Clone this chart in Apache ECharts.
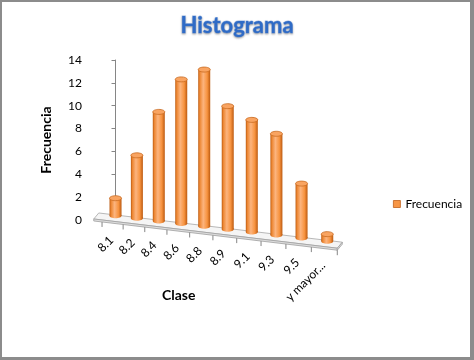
<!DOCTYPE html>
<html>
<head>
<meta charset="utf-8">
<script src="https://cdn.jsdelivr.net/npm/echarts@6/dist/echarts.min.js"></script>
<style>
html,body{margin:0;padding:0;background:#fff;}
#c{width:474px;height:360px;}
</style>
</head>
<body>
<div id="c"></div>
<script>
// ---- data ----
const categories = ['8.1', '8.2', '8.4', '8.6', '8.8', '8.9', '9.1', '9.3', '9.5', 'y mayor...'];
const frecuencia = [2, 6, 10, 13, 14, 11, 10, 9, 5, 1];
const yMin = 0, yMax = 14, yInterval = 2;
const seriesName = 'Frecuencia';
const titleText = 'Histograma';
const xTitle = 'Clase';
const yTitle = 'Frecuencia';

// ---- style / perspective parameters ----
const FONT = 'Lato, Carlito, "Open Sans", sans-serif';
const WARP = 0.27;      // perspective spacing warp
const SLOPE = 0.12;     // floor slope (receding)
const BASE_OFF = -4.6;  // bar base offset from wall zero
const AXIS_COLOR = '#868686';

const chart = echarts.init(document.getElementById('c'));

function geo(api) {
  const o = api.coord([-1, 0]);
  const one = api.coord([-1, 1]);
  return { x0: o[0], y0: o[1], unit: o[1] - one[1] };
}
function xAt(api, c) { return api.coord([c, 0])[0] + WARP * c * (c - 9); }
function yBase(g, x) { return g.y0 + BASE_OFF + SLOPE * (x - g.x0); }

const bodyGrad = () => new echarts.graphic.LinearGradient(0, 0, 1, 0, [
  { offset: 0, color: '#b9580f' },
  { offset: 0.12, color: '#ec8530' },
  { offset: 0.42, color: '#fcb47e' },
  { offset: 0.75, color: '#f7933f' },
  { offset: 1, color: '#bc5a10' }
]);

function renderBar(params, api) {
  const i = api.value(0), v = api.value(1);
  const g = geo(api);
  const x = xAt(api, i);
  const yb = yBase(g, x);
  const h = v * g.unit * (1.01 + 0.0003 * (x - 200));
  const yt = yb - h;
  const hw = 6, ry = 2.5;
  return {
    type: 'group',
    children: [
      { type: 'ellipse', shape: { cx: x, cy: yb - ry, rx: hw, ry: ry }, style: { fill: bodyGrad() } },
      { type: 'rect', shape: { x: x - hw, y: yt + ry, width: 2 * hw, height: Math.max(0, h - 2 * ry) }, style: { fill: bodyGrad() } },
      { type: 'ellipse', shape: { cx: x, cy: yt + ry, rx: hw, ry: ry }, style: { fill: '#f9a461', stroke: '#c8691f', lineWidth: 0.8 } }
    ]
  };
}

function renderFloor(params, api) {
  const g = geo(api);
  const cl = -0.9, cr = 9.5;
  const F = c => { const x = xAt(api, c); return [x - 3, yBase(g, x) + 3]; };
  const B = c => { const x = xAt(api, c); return [x + 2, yBase(g, x) - 3]; };
  const children = [];
  const fl = F(cl), fr = F(cr), br = B(cr);
  children.push({ type: 'polygon', shape: { points: [B(cl), br, fr, fl] }, style: { fill: '#f5f5f5', stroke: '#b8b8b8', lineWidth: 1 } });
  children.push({ type: 'polygon', shape: { points: [fl, fr, [fr[0], fr[1] + 2], [fl[0], fl[1] + 2]] }, style: { fill: '#dedede', stroke: '#a0a0a0', lineWidth: 0.8 } });
  children.push({ type: 'polygon', shape: { points: [fr, br, [br[0], br[1] + 2], [fr[0], fr[1] + 2]] }, style: { fill: '#dedede', stroke: '#a0a0a0', lineWidth: 0.8 } });
  const tickCs = [];
  for (let k = 0; k < categories.length; k++) tickCs.push(k - 0.5);
  tickCs.push(cr);
  tickCs.forEach(c => {
    const p = F(c);
    children.push({ type: 'line', shape: { x1: p[0], y1: p[1] + 2, x2: p[0], y2: p[1] + 7 }, style: { stroke: AXIS_COLOR, lineWidth: 1 } });
  });
  categories.forEach((name, i) => {
    const p = F(i);
    children.push({
      type: 'text', x: p[0] - 1, y: p[1] + 17, rotation: Math.PI / 4,
      style: { text: name, x: 0, y: 0, align: 'right', verticalAlign: 'middle', fontFamily: FONT, fontSize: 12, fill: '#000' }
    });
  });
  return { type: 'group', children };
}

chart.setOption({
  animation: false,
  backgroundColor: '#fff',
  title: {
    text: titleText, left: 'center', top: 10,
    textStyle: { fontFamily: FONT, fontSize: 22, fontWeight: 'bold', color: '#2f6bc6',
      textBorderColor: '#9fbbe8', textBorderWidth: 1,
      textShadowColor: 'rgba(0,0,0,0.25)', textShadowBlur: 2, textShadowOffsetY: 1 }
  },
  legend: {
    data: [{ name: seriesName, icon: 'rect', itemStyle: { color: '#f79646', borderColor: '#c0601a', borderWidth: 0.8 } }],
    left: 388, top: 193, itemWidth: 7, itemHeight: 7,
    textStyle: { fontFamily: FONT, fontSize: 12, color: '#000' }
  },
  grid: { left: 92, top: 60, right: 135, bottom: 140, containLabel: false },
  xAxis: { type: 'value', min: -1, max: 9.5, show: false },
  yAxis: {
    type: 'value', min: yMin, max: yMax, interval: yInterval,
    name: yTitle, nameLocation: 'middle', nameGap: 39,
    nameTextStyle: { fontFamily: FONT, fontSize: 14, fontWeight: 'bold', color: '#000' },
    axisLine: { show: true, lineStyle: { color: AXIS_COLOR } },
    axisTick: { show: true, length: 4, lineStyle: { color: AXIS_COLOR } },
    axisLabel: { margin: 10, fontFamily: FONT, fontSize: 12, color: '#000' },
    splitLine: { show: false }
  },
  graphic: [
    { type: 'text', left: 162, top: 288, style: { text: xTitle, fontFamily: FONT, fontSize: 14, fontWeight: 'bold', fill: '#000' } },
    { type: 'rect', shape: { x: 0, y: 0, width: 474, height: 2 }, style: { fill: '#8c8c8c' } },
    { type: 'rect', shape: { x: 0, y: 0, width: 2, height: 360 }, style: { fill: '#8c8c8c' } },
    { type: 'rect', shape: { x: 470, y: 0, width: 4, height: 360 }, style: { fill: '#8c8c8c' } },
    { type: 'rect', shape: { x: 0, y: 357, width: 474, height: 3 }, style: { fill: '#8c8c8c' } }
  ],
  series: [
    { type: 'custom', name: '_floor', z: 1, clip: false, silent: true, renderItem: renderFloor, data: [[0, 0]] },
    { type: 'custom', name: seriesName, z: 2, clip: false, renderItem: renderBar,
      itemStyle: { color: '#f79646' },
      data: frecuencia.map((v, i) => [i, v]) }
  ]
});
</script>
</body>
</html>
